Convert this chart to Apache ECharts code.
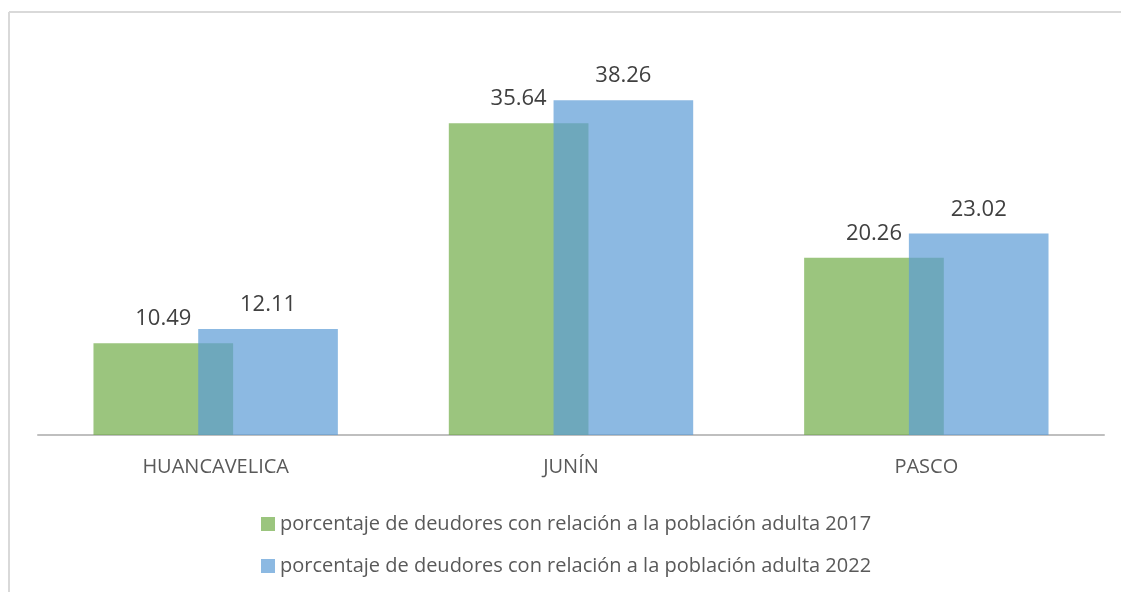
<!DOCTYPE html>
<html>
<head>
<meta charset="utf-8">
<script src="https://cdn.jsdelivr.net/npm/echarts@6/dist/echarts.min.js"></script>
<style>
  html, body { margin: 0; padding: 0; background: #fff; }
  #chart { width: 1121px; height: 592px; }
</style>
</head>
<body>
<div id="chart"></div>
<script>
// datos
const categories = ['HUANCAVELICA', 'JUNÍN', 'PASCO']
const seriesNames = [
  'porcentaje de deudores con relación a la población adulta 2017',
  'porcentaje de deudores con relación a la población adulta 2022'
]
const values2017 = [10.49, 35.64, 20.26]
const values2022 = [12.11, 38.26, 23.02]

const chart = echarts.init(document.getElementById('chart'))

const labelStyle = {
  show: true,
  position: 'top',
  distance: 13,
  color: '#404040',
  fontSize: 22,
  fontFamily: 'Open Sans',
  formatter: (p) => p.value.toFixed(2)
}

// leyenda: una por fila para controlar la posición
const legendBase = {
  orient: 'vertical',
  left: 256,
  itemWidth: 14,
  itemHeight: 14,
  itemGap: 8,
  icon: 'rect',
  textStyle: { color: '#595959', fontSize: 20, fontFamily: 'Open Sans' }
}

// borde del área del gráfico (solo arriba e izquierda quedan visibles)
const borderStyle = { stroke: '#d9d9d9', lineWidth: 2 }

chart.setOption({
  animation: false,
  graphic: [
    { type: 'line', shape: { x1: 9, y1: 12, x2: 1121, y2: 12 }, style: borderStyle },
    { type: 'line', shape: { x1: 9, y1: 12, x2: 9, y2: 592 }, style: borderStyle }
  ],
  legend: [
    Object.assign({}, legendBase, { top: 509, data: [seriesNames[0]] }),
    Object.assign({}, legendBase, { top: 551, data: [seriesNames[1]] })
  ],
  grid: { left: 38, right: 17, top: 85, bottom: 157 },
  xAxis: {
    type: 'category',
    data: categories,
    axisLine: { lineStyle: { color: '#bfbfbf', width: 2 } },
    axisTick: { show: false },
    axisLabel: {
      color: '#595959',
      fontSize: 20,
      fontFamily: 'Open Sans',
      margin: 22
    }
  },
  yAxis: {
    type: 'value',
    min: 0,
    max: 40,
    show: false,
    splitLine: { show: false }
  },
  series: [
    {
      name: seriesNames[0],
      type: 'bar',
      data: values2017,
      barWidth: '39.3%',
      barGap: '-25%',
      itemStyle: { color: 'rgba(112,173,71,0.7)' },
      label: labelStyle
    },
    {
      name: seriesNames[1],
      type: 'bar',
      data: values2022,
      barWidth: '39.3%',
      itemStyle: { color: 'rgba(91,155,213,0.7)' },
      label: labelStyle
    }
  ]
})
</script>
</body>
</html>
